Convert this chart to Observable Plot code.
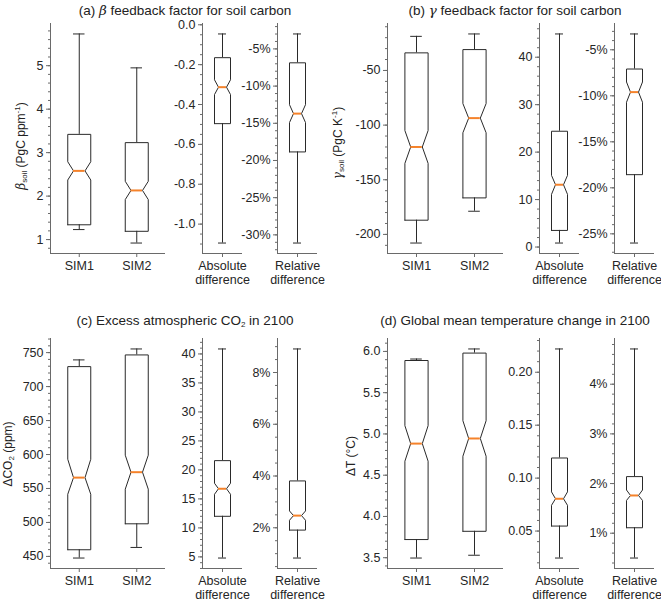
<!DOCTYPE html>
<html><head><meta charset="utf-8">
<script src="https://cdn.jsdelivr.net/npm/d3@7"></script>
<script src="https://cdn.jsdelivr.net/npm/@observablehq/plot@0.6"></script>
<style>
body{margin:0;background:#fff;}
#chart{position:relative;width:661px;height:606px;font-family:"Liberation Sans",Arial,sans-serif;color:#222;overflow:hidden;background:#fff}
.title{position:absolute;font-size:13.5px;white-space:nowrap;transform:translate(-50%,-50%);line-height:1}
.ylab{position:absolute;font-size:12px;white-space:nowrap;transform:translate(-50%,-50%) rotate(-90deg);line-height:1}
.sb{font-size:8px;position:relative;top:2px}
.sp{font-size:8px;position:relative;top:-5px}
.sub{position:absolute;font-family:"Liberation Sans",Arial,sans-serif}
</style></head><body><div id="chart"></div>
<script>
// stats per box: [low whisker, q1, notch low, median, notch high, q3, high whisker]
const simCategories = ["SIM1", "SIM2"];
const absCategory = ["Absolute\ndifference"];
const relCategory = ["Relative\ndifference"];

// (a) beta feedback factor for soil carbon
const betaSim = [[1.23, 1.34, 2.37, 2.58, 2.79, 3.42, 5.73], [0.92, 1.19, 1.92, 2.13, 2.34, 3.23, 4.95]];
const betaAbs = [[-1.095, -0.496, -0.35, -0.313, -0.276, -0.165, -0.046]];
const betaRel = [[-31.1, -18.85, -14.9, -13.7, -12.5, -6.87, -2.99]];
// (b) gamma feedback factor for soil carbon
const gammaSim = [[-207.9, -187, -135, -120, -105, -33.9, -18.8], [-178.8, -166.6, -107, -93.6, -80.3, -30.9, -16.6]];
const gammaAbs = [[0.84, 3.5, 11.1, 13.13, 15.1, 24.4, 44.9]];
const gammaRel = [[-26.0, -18.57, -10.7, -9.6, -8.5, -7.09, -3.28]];
// (c) excess atmospheric CO2 in 2100
const co2Sim = [[447.6, 459.8, 541.5, 566, 593, 729.4, 739.3], [463.2, 498, 549, 574, 599, 746.6, 755.4]];
const co2Abs = [[4.8, 12.0, 15.8, 16.75, 17.7, 21.6, 40.86]];
const co2Rel = [[0.83, 1.91, 2.29, 2.47, 2.65, 3.81, 8.91]];
// (d) global mean temperature change in 2100
const tempSim = [[3.496, 3.72, 4.67, 4.883, 5.10, 5.89, 5.908], [3.53, 3.82, 4.73, 4.945, 5.16, 5.98, 6.03]];
const tempAbs = [[0.0245, 0.0547, 0.0743, 0.0805, 0.087, 0.119, 0.222]];
const tempRel = [[0.50, 1.11, 1.66, 1.76, 1.87, 2.14, 4.71]];

// tick labels
const betaSimTicks = [1, 2, 3, 4, 5];
const betaAbsTicks = [0, -0.2, -0.4, -0.6, -0.8, -1.0];
const betaRelTicks = [-5, -10, -15, -20, -25, -30];
const gammaSimTicks = [-50, -100, -150, -200];
const gammaAbsTicks = [0, 10, 20, 30, 40];
const gammaRelTicks = [-5, -10, -15, -20, -25];
const co2SimTicks = [450, 500, 550, 600, 650, 700, 750];
const co2AbsTicks = [5, 10, 15, 20, 25, 30, 35, 40];
const co2RelTicks = [2, 4, 6, 8];
const tempSimTicks = [3.5, 4.0, 4.5, 5.0, 5.5, 6.0];
const tempAbsTicks = [0.05, 0.10, 0.15, 0.20];
const tempRelTicks = [1, 2, 3, 4];

const ORANGE = "#f5822a", BOXC = "#2a2a2a", AXC = "#6a6a6a", TXT = "#262626";
const FS = 12.5;
const chart = document.getElementById("chart");

function boxPlot(stats, cats, ticks, fmt, minorStep, x0, x1, y0, y1) {
  const lo = d3.min(stats, d => d[0]), hi = d3.max(stats, d => d[6]);
  const r = hi - lo;
  const ydom = [lo - 0.05 * r, hi + 0.05 * r];
  const xdom = [0.5, cats.length + 0.5];
  const w = 0.2, waist = 0.1;
  const rows = stats.map((s, i) => ({pos: i + 1, low: s[0], q1: s[1], nlo: s[2], med: s[3], nhi: s[4], q3: s[5], high: s[6]}));
  const poly = rows.flatMap(b => [
    [b.pos - w, b.q1], [b.pos + w, b.q1], [b.pos + w, b.nlo], [b.pos + waist, b.med], [b.pos + w, b.nhi],
    [b.pos + w, b.q3], [b.pos - w, b.q3], [b.pos - w, b.nhi], [b.pos - waist, b.med], [b.pos - w, b.nlo], [b.pos - w, b.q1]
  ].map(([x, y]) => ({box: b.pos, x, y})));
  const start = Math.ceil(ydom[0] / minorStep - 1e-9), end = Math.floor(ydom[1] / minorStep + 1e-9);
  const minor = d3.range(start, end + 1).map(k => +(k * minorStep).toFixed(6));
  const ml = 48, mr = 6, mt = 6, mb = 36;
  const svg = Plot.plot({
    width: (x1 - x0) + ml + mr, height: (y1 - y0) + mt + mb,
    marginLeft: ml, marginRight: mr, marginTop: mt, marginBottom: mb,
    style: {background: "transparent", overflow: "visible", fontFamily: '"Liberation Sans", Arial, sans-serif', fontSize: FS + "px", color: TXT},
    x: {domain: xdom, axis: null},
    y: {domain: ydom, axis: null},
    marks: [
      Plot.ruleX([xdom[0]], {stroke: AXC, strokeWidth: 1}),
      Plot.ruleY([ydom[0]], {stroke: AXC, strokeWidth: 1}),
      Plot.axisY(minor, {tickSize: 2, tickFormat: () => "", label: null, stroke: AXC}),
      Plot.axisY(ticks, {tickSize: 4, tickPadding: 3, tickFormat: fmt, label: null, stroke: AXC, fill: TXT, fontSize: FS}),
      Plot.axisX(rows.map(d => d.pos), {tickSize: 4, tickPadding: 3, tickFormat: p => cats[p - 1], label: null, stroke: AXC, fill: TXT, fontSize: FS, lineHeight: 1.1}),
      Plot.ruleX(rows, {x: "pos", y1: "q3", y2: "high", stroke: BOXC}),
      Plot.ruleX(rows, {x: "pos", y1: "low", y2: "q1", stroke: BOXC}),
      Plot.ruleY(rows, {y: "high", x1: d => d.pos - waist, x2: d => d.pos + waist, stroke: BOXC}),
      Plot.ruleY(rows, {y: "low", x1: d => d.pos - waist, x2: d => d.pos + waist, stroke: BOXC}),
      Plot.line(poly, {x: "x", y: "y", z: "box", stroke: BOXC, strokeWidth: 1}),
      Plot.ruleY(rows, {y: "med", x1: d => d.pos - waist, x2: d => d.pos + waist, stroke: ORANGE, strokeWidth: 2})
    ]
  });
  svg.classList.add("sub");
  svg.style.left = (x0 - ml) + "px";
  svg.style.top = (y0 - mt) + "px";
  chart.appendChild(svg);
}

const pct = d => `${d}%`;
const plain = d => `${d}`;
const f1 = d => d.toFixed(1);
const f2 = d => d.toFixed(2);

const colsLeft = [[50, 165], [201.7, 241.7], [277.3, 317.3]];
const colsRight = [[387, 503], [539, 579], [614, 654]];
const rowTop = [23, 253], rowBot = [338, 568];

boxPlot(betaSim, simCategories, betaSimTicks, plain, 0.2, ...colsLeft[0], ...rowTop);
boxPlot(betaAbs, absCategory, betaAbsTicks, f1, 0.05, ...colsLeft[1], ...rowTop);
boxPlot(betaRel, relCategory, betaRelTicks, pct, 1, ...colsLeft[2], ...rowTop);
boxPlot(gammaSim, simCategories, gammaSimTicks, plain, 10, ...colsRight[0], ...rowTop);
boxPlot(gammaAbs, absCategory, gammaAbsTicks, plain, 2, ...colsRight[1], ...rowTop);
boxPlot(gammaRel, relCategory, gammaRelTicks, pct, 1, ...colsRight[2], ...rowTop);
boxPlot(co2Sim, simCategories, co2SimTicks, plain, 10, ...colsLeft[0], ...rowBot);
boxPlot(co2Abs, absCategory, co2AbsTicks, plain, 1, ...colsLeft[1], ...rowBot);
boxPlot(co2Rel, relCategory, co2RelTicks, pct, 0.5, ...colsLeft[2], ...rowBot);
boxPlot(tempSim, simCategories, tempSimTicks, f1, 0.1, ...colsRight[0], ...rowBot);
boxPlot(tempAbs, absCategory, tempAbsTicks, f2, 0.01, ...colsRight[1], ...rowBot);
boxPlot(tempRel, relCategory, tempRelTicks, pct, 0.2, ...colsRight[2], ...rowBot);

function addHTML(cls, html, x, y) {
  const d = document.createElement("div");
  d.className = cls; d.innerHTML = html;
  d.style.left = x + "px"; d.style.top = y + "px";
  chart.appendChild(d);
}
addHTML("title", '(a) <i style="font-family:\'DejaVu Serif\',serif">β</i> feedback factor for soil carbon', 185, 11);
addHTML("title", '(b) <i style="font-family:\'DejaVu Serif\',serif">γ</i> feedback factor for soil carbon', 515, 11);
addHTML("title", '(c) Excess atmospheric CO<span class="sb">2</span> in 2100', 185, 321);
addHTML("title", '(d) Global mean temperature change in 2100', 515, 321);
addHTML("ylab", '<i style="font-family:\'DejaVu Serif\',serif">β</i><span class="sb">soil</span> (PgC ppm<span class="sp">-1</span>)', 21, 146);
addHTML("ylab", '<i style="font-family:\'DejaVu Serif\',serif">γ</i><span class="sb">soil</span> (PgC K<span class="sp">-1</span>)', 338, 143);
addHTML("ylab", 'ΔCO<span class="sb">2</span> (ppm)', 8, 454);
addHTML("ylab", 'ΔT (°C)', 351, 456);
</script></body></html>
